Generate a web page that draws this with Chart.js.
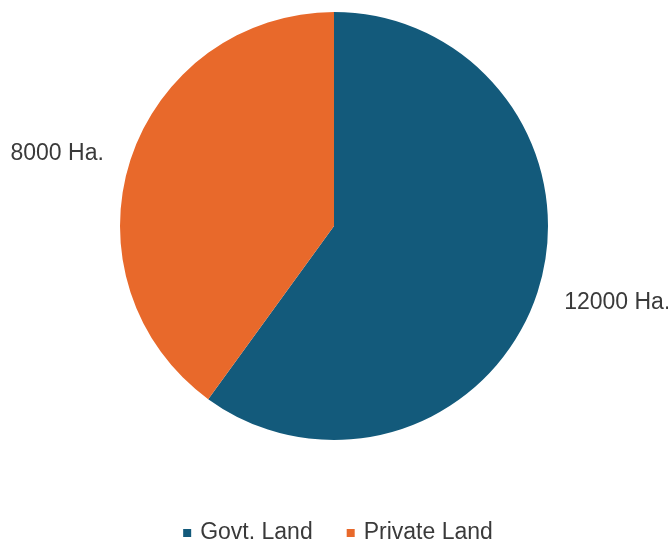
<!DOCTYPE html>
<html>
<head>
<meta charset="utf-8">
<script src="https://cdn.jsdelivr.net/npm/chart.js@4"></script>
<style>
  html, body { margin: 0; padding: 0; background: #fff; }
  #wrap { width: 668px; height: 547px; }
</style>
</head>
<body>
<div id="wrap"><canvas id="landChart" width="668" height="547"></canvas></div>
<script>
const categories = ['Govt. Land', 'Private Land'];
const areas = [12000, 8000];
const sliceLabels = ['12000 Ha.', '8000 Ha.'];
const colors = ['#135a7b', '#e8692b'];

const textFont = '23px "Liberation Sans", Arial, sans-serif';
const textColor = '#3a3a3a';

// outside labels + bottom legend
const extras = {
  id: 'extras',
  afterDraw(chart) {
    const ctx = chart.ctx;
    const meta = chart.getDatasetMeta(0);
    ctx.save();
    ctx.font = textFont;
    ctx.fillStyle = textColor;
    ctx.textBaseline = 'middle';
    meta.data.forEach((arc, i) => {
      const mid = (arc.startAngle + arc.endAngle) / 2;
      const r = arc.outerRadius + 28;
      const cx = Math.cos(mid);
      ctx.textAlign = cx < 0 ? 'right' : 'left';
      ctx.fillText(sliceLabels[i], arc.x + cx * r, arc.y + Math.sin(mid) * r + 2);
    });

    const box = 8, gap = 9, spacing = 34, y = 533;
    const widths = categories.map(c => ctx.measureText(c).width);
    const total = widths.reduce((s, w) => s + box + gap + w, 0) + spacing * (categories.length - 1);
    let x = chart.width / 2 - total / 2 + 4;
    ctx.textAlign = 'left';
    categories.forEach((c, i) => {
      ctx.fillStyle = colors[i];
      ctx.fillRect(x, y - box / 2, box, box);
      x += box + gap;
      ctx.fillStyle = textColor;
      ctx.fillText(c, x, y);
      x += widths[i] + spacing;
    });
    ctx.restore();
  }
};

new Chart(document.getElementById('landChart'), {
  type: 'pie',
  data: {
    labels: categories,
    datasets: [{ data: areas, backgroundColor: colors, borderWidth: 0 }]
  },
  options: {
    responsive: false,
    animation: false,
    layout: { padding: { top: 12, bottom: 107 } },
    plugins: { legend: { display: false }, tooltip: { enabled: false } }
  },
  plugins: [extras]
});
</script>
</body>
</html>
